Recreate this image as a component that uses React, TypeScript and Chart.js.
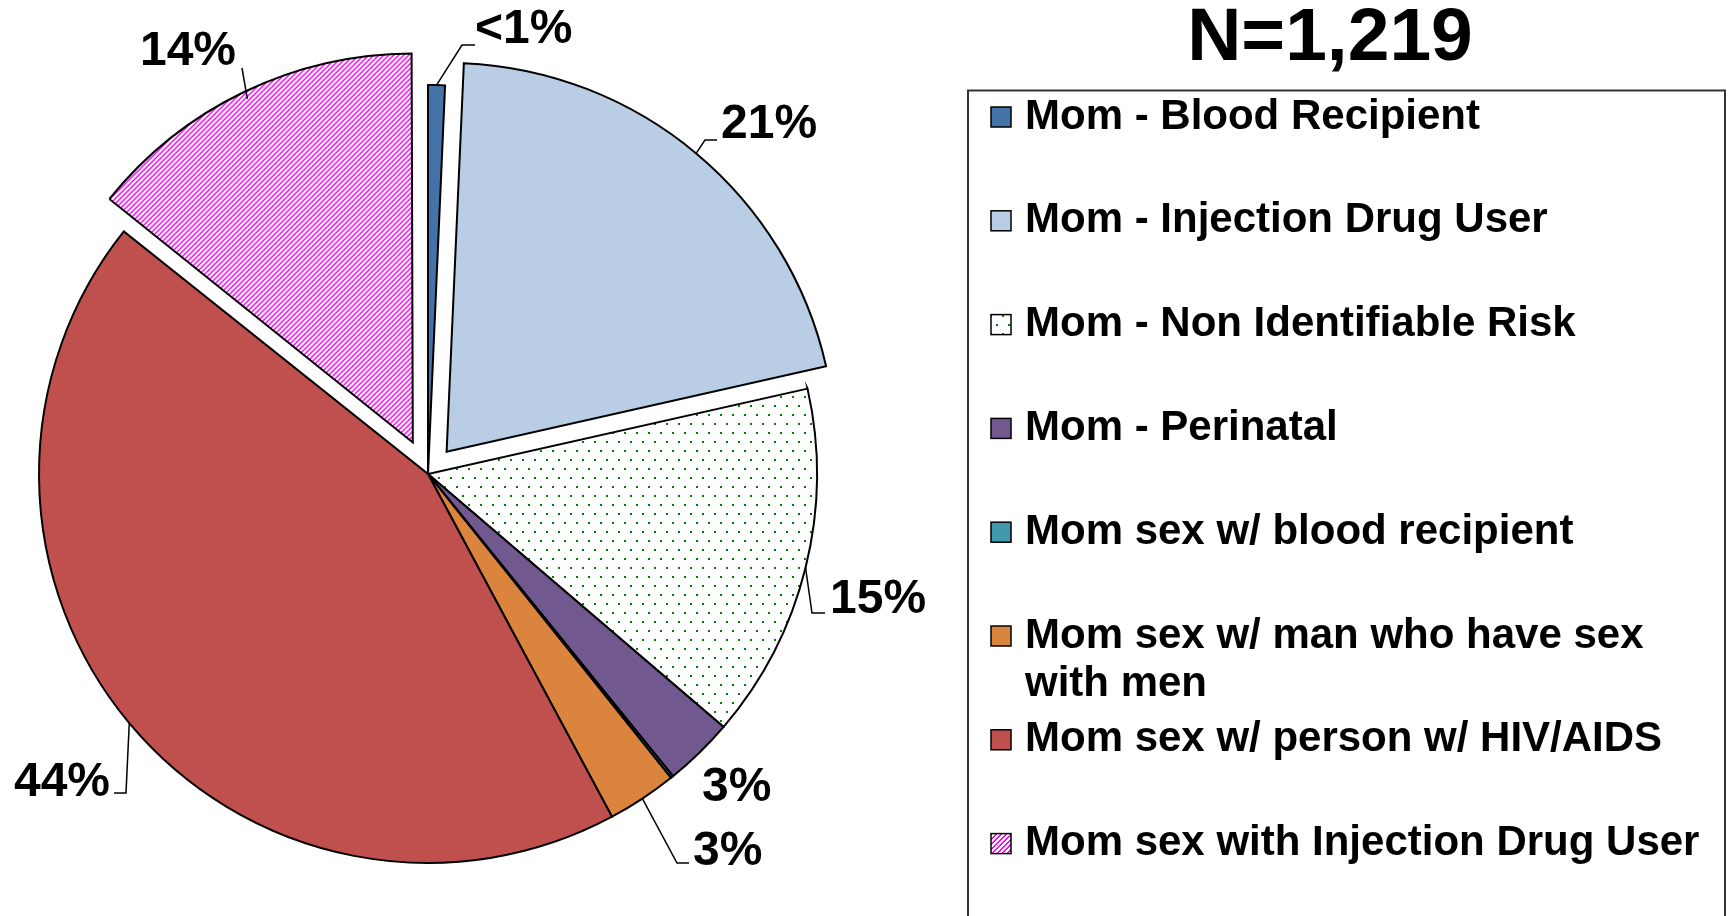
import React, { useEffect, useRef } from "react";
import { Chart, registerables } from "chart.js";

Chart.register(...registerables);

// ---------- data ----------
const categories = [
  "Mom - Blood Recipient",
  "Mom - Injection Drug User",
  "Mom - Non Identifiable Risk",
  "Mom - Perinatal",
  "Mom sex w/ blood recipient",
  "Mom sex w/ man who have sex with men",
  "Mom sex w/ person w/ HIV/AIDS",
  "Mom sex with Injection Drug User",
];
const legendLines = [
  ["Mom - Blood Recipient"],
  ["Mom - Injection Drug User"],
  ["Mom - Non Identifiable Risk"],
  ["Mom - Perinatal"],
  ["Mom sex w/ blood recipient"],
  ["Mom sex w/ man who have sex", "with men"],
  ["Mom sex w/ person w/ HIV/AIDS"],
  ["Mom sex with Injection Drug User"],
];
const shares = [0.7, 20.8, 14.8, 2.9, 0.1, 2.9, 43.6, 14.3];
const pctLabels = ["<1%", "21%", "15%", "3%", "", "3%", "44%", "14%"];
const explode = [0, 29, 0, 0, 0, 0, 0, 35];
const titleText = "N=1,219";

// ---------- styles / layout ----------
const FONT = "'Liberation Sans', Arial, Helvetica, sans-serif";
const W = 1731;
const H = 916;
const PIE_RADIUS = 389;

const labelLayout: ({ tx: number; ty: number; align: CanvasTextAlign; path: number[][] } | null)[] = [
  { tx: 475, ty: 30, align: "left", path: [[462, 45], [475, 45]] },
  { tx: 721, ty: 125, align: "left", path: [[705, 140], [717, 140]] },
  { tx: 830, ty: 600, align: "left", path: [[812, 613], [825, 613]] },
  { tx: 702, ty: 788, align: "left", path: [] },
  null,
  { tx: 693, ty: 852, align: "left", path: [[677, 863], [689, 863]] },
  { tx: 110, ty: 783, align: "right", path: [[126, 793], [114, 793]] },
  { tx: 188, ty: 52, align: "center", path: [[242, 68]] },
];

function makeDots(): CanvasPattern {
  const c = document.createElement("canvas");
  c.width = 12;
  c.height = 18;
  const g = c.getContext("2d")!;
  g.fillStyle = "#ffffff";
  g.fillRect(0, 0, 12, 18);
  g.fillStyle = "#008000";
  g.fillRect(0, 0, 2, 2);
  g.fillRect(6, 9, 2, 2);
  return g.createPattern(c, "repeat")!;
}

function makeDiag(): CanvasPattern {
  const n = 5;
  const c = document.createElement("canvas");
  c.width = n;
  c.height = n;
  const g = c.getContext("2d")!;
  g.fillStyle = "#ffffff";
  g.fillRect(0, 0, n, n);
  g.fillStyle = "#ff00ff";
  for (let i = 0; i < n; i++) {
    g.fillRect(i, n - 1 - i, 1, 1);
    g.fillRect(i, (n - i) % n, 1, 1);
  }
  return g.createPattern(c, "repeat")!;
}

const overlayPlugin = {
  id: "overlay",
  afterDatasetsUpdate(chart: any) {
    // keep exploded slices at the same radius as the others
    const meta = chart.getDatasetMeta(0);
    meta.data.forEach((arc: any) => {
      const off = ((arc.options && arc.options.offset) || 0) / 4;
      if (!off) return;
      const fix = 1 - Math.sin(Math.min(Math.PI, arc.circumference || 0));
      arc.outerRadius = PIE_RADIUS - off * fix;
    });
  },
  afterDraw(chart: any) {
    const ctx: CanvasRenderingContext2D = chart.ctx;
    const meta = chart.getDatasetMeta(0);
    const colors = chart.data.datasets[0].backgroundColor;
    ctx.save();

    // title
    ctx.fillStyle = "#000";
    ctx.font = `bold 75px ${FONT}`;
    ctx.textAlign = "center";
    ctx.textBaseline = "middle";
    ctx.fillText(titleText, 1330, 39);

    // legend box
    ctx.strokeStyle = "#333";
    ctx.lineWidth = 2;
    ctx.strokeRect(968, 90.5, 757, 900);

    ctx.font = `bold 42px ${FONT}`;
    ctx.textAlign = "left";
    categories.forEach((_, i) => {
      const cy = 117 + 103.8 * i;
      ctx.fillStyle = colors[i];
      ctx.fillRect(991, cy - 10, 20, 20);
      ctx.strokeStyle = "#000";
      ctx.lineWidth = 1.5;
      ctx.strokeRect(991, cy - 10, 20, 20);
      ctx.fillStyle = "#000";
      legendLines[i].forEach((line, j) => {
        ctx.fillText(line, 1025, cy + j * 48);
      });
    });

    // percentage labels with leader lines
    ctx.font = `bold 48px ${FONT}`;
    meta.data.forEach((arc: any, i: number) => {
      const lay = labelLayout[i];
      if (!lay || !pctLabels[i]) return;
      const mid = (arc.startAngle + arc.endAngle) / 2;
      const shift = ((arc.options && arc.options.offset) || 0) / 4;
      const r = arc.outerRadius + shift;
      const ax = arc.x + Math.cos(mid) * r;
      const ay = arc.y + Math.sin(mid) * r;
      if (lay.path.length) {
        ctx.strokeStyle = "#000";
        ctx.lineWidth = 1.5;
        ctx.beginPath();
        ctx.moveTo(ax, ay);
        lay.path.forEach((p) => ctx.lineTo(p[0], p[1]));
        ctx.stroke();
      }
      ctx.fillStyle = "#000";
      ctx.textAlign = lay.align;
      ctx.textBaseline = "middle";
      ctx.fillText(pctLabels[i], lay.tx, lay.ty);
    });

    ctx.restore();
  },
};

export default function App() {
  const ref = useRef<HTMLCanvasElement>(null);
  useEffect(() => {
    document.body.style.margin = "0";
    document.body.style.overflow = "hidden";
    const bg = [
      "#4572A7",
      "#B9CDE5",
      makeDots(),
      "#71588F",
      "#4198AF",
      "#DB843D",
      "#C0504D",
      makeDiag(),
    ];
    const chart = new Chart(ref.current!, {
      type: "pie",
      data: {
        labels: categories,
        datasets: [
          {
            data: shares,
            backgroundColor: bg as any,
            borderColor: "#000000",
            borderWidth: 2,
            borderJoinStyle: "miter",
            offset: explode.map((e) => e * 4),
          } as any,
        ],
      },
      plugins: [overlayPlugin],
      options: {
        responsive: false,
        animation: false,
        events: [],
        radius: PIE_RADIUS,
        layout: { padding: { left: 0, right: W - 856, top: 32, bottom: 0 } },
        plugins: {
          legend: { display: false },
          tooltip: { enabled: false },
          title: { display: false },
        },
      } as any,
    });
    return () => chart.destroy();
  }, []);
  return (
    <div style={{ position: "absolute", left: 0, top: 0, width: W, height: H, background: "#fff" }}>
      <canvas ref={ref} width={W} height={H} style={{ display: "block" }} />
    </div>
  );
}
